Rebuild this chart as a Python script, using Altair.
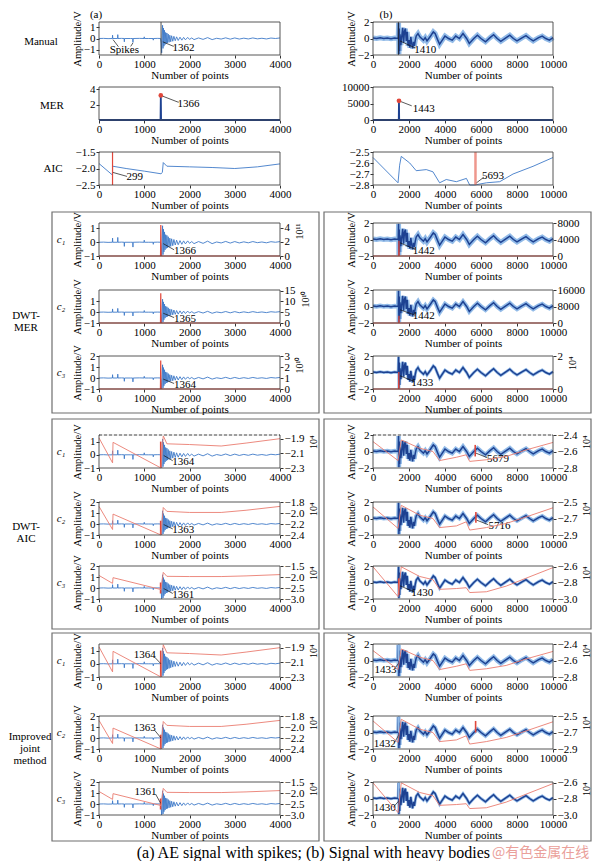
import altair as alt
import pandas as pd

FONT = "Liberation Serif"
BLUE = "#3f7bc8"
DBLUE = "#1d4191"
HALO = "#92bbe8"
RED = "#e0473b"
SALMON = "#ea7d70"
FRAME = "#6e6e6e"

# ---------------- data ----------------
# (a) AE signal with spikes, 4000 points
A_X = [0, 100, 200, 295, 300, 305, 410, 415, 420, 500, 555, 560, 565, 700, 745, 750, 755, 900,
       995, 1000, 1005, 1100, 1195, 1200, 1205, 1300, 1360, 1375, 1385, 1395, 1405, 1415, 1425,
       1435, 1448, 1460, 1473, 1487, 1500, 1515, 1530, 1548, 1565, 1585, 1605, 1630, 1655, 1685,
       1715, 1750, 1790, 1830, 1870, 1910, 1960, 2000, 2050, 2100, 2200, 2300, 2400, 2500, 2600,
       2700, 2800, 2900, 3000, 3100, 3200, 3300, 3400, 3500, 3600, 3700, 3800, 3900, 4000]
A_SIG = [0.0, 0.01, -0.01, 0.0, 0.3, 0.0, 0.0, 0.35, 0.0, 0.01, 0.0, -0.3, 0.0, 0.0, 0.0, -0.35,
         0.0, 0.01, 0.0, 0.15, 0.0, 0.0, 0.0, -0.15, 0.0, 0.01, 0.0, -0.4, -1.3, 0.3, 1.2, -0.9,
         0.95, -0.7, 0.75, -0.55, 0.55, -0.45, 0.5, -0.4, 0.4, -0.35, 0.3, -0.3, 0.25, -0.25, 0.2,
         -0.2, 0.15, -0.18, 0.12, -0.15, 0.1, -0.12, 0.1, -0.08, 0.05, -0.1, 0.05, -0.08, 0.08,
         -0.1, 0.02, -0.05, 0.06, -0.06, 0.05, -0.05, 0.03, -0.04, 0.05, -0.03, 0.02, -0.04, 0.04,
         0.0, 0.05]
# (b) signal with heavy bodies, 10000 points
B_X = [0, 200, 400, 600, 800, 1000, 1200, 1400, 1420, 1440, 1460, 1480, 1500, 1550, 1600, 1650,
       1700, 1750, 1800, 1850, 1900, 1950, 2000, 2050, 2100, 2150, 2200, 2250, 2300, 2350, 2400,
       2500, 2600, 2700, 2800, 2900, 3000, 3100, 3200, 3350, 3450, 3600, 3700, 3850, 4000, 4200,
       4400, 4600, 4800, 5000, 5200, 5350, 5600, 5800, 6000, 6250, 6500, 6700, 6900, 7100, 7400,
       7600, 7800, 8000, 8300, 8500, 8700, 8900, 9200, 9400, 9600, 9800, 10000]
B_SIG = [0.05, 0.0, 0.08, 0.0, 0.05, -0.02, 0.06, 0.0, 1.9, -1.9, 1.2, -1.5, 0.5, -0.8, 0.3, 1.3,
         -0.5, 0.9, 1.2, -0.3, 0.8, -0.9, -0.2, -1.1, 0.2, -0.6, -1.2, -0.4, -0.9, -0.2, 0.3, 0.6,
         0.2, 0.0, -0.2, 0.1, -0.3, 0.0, 0.3, 0.8, 0.6, -0.2, -0.7, -0.2, 0.3, 0.0, -0.2, 0.3, 0.0,
         0.6, 0.0, -0.6, 0.0, 0.4, 0.0, -0.4, 0.1, 0.45, 0.0, -0.35, 0.1, 0.4, 0.0, -0.3, 0.1,
         0.35, 0.0, -0.3, 0.1, 0.3, 0.0, -0.2, 0.1]

MER_A_X = [0, 1360, 1366, 1372, 4000]
MER_A_Y = [0, 0, 3.2, 0, 0]
MER_B_X = [0, 1431, 1443, 1455, 10000]
MER_B_Y = [0, 0, 5800, 0, 0]

AIC_A_X = [0, 299, 300, 600, 1000, 1370, 1400, 1420, 1500, 2000, 2500, 3000, 3500, 4000]
AIC_A_Y = [-1.85, -2.2, -1.93, -2.0, -2.08, -2.16, -2.12, -1.82, -1.93, -1.95, -1.97, -2.0, -1.95, -1.86]
AIC_B_X = [0, 1390, 1480, 1570, 2040, 2400, 2960, 3330, 3700, 4070, 4630, 5190, 5370, 5650,
           6300, 7040, 7780, 8890, 10000]
AIC_B_Y = [-2.55, -2.78, -2.62, -2.54, -2.6, -2.67, -2.66, -2.68, -2.78, -2.75, -2.77, -2.74,
           -2.8, -2.8, -2.78, -2.77, -2.7, -2.63, -2.55]

# DWT-MER curves (right axes)
DMA1_X = [0, 1360, 1366, 1372, 4000]
DMA1_Y = [0, 0, 4.4, 0, 0]
DMA2_X = [0, 1359, 1365, 1371, 4000]
DMA2_Y = [0, 0, 13.8, 0, 0]
DMA3_X = [0, 1358, 1364, 1370, 4000]
DMA3_Y = [0, 0, 2.6, 0, 0]
DMB1_X = [0, 1430, 1442, 1454, 10000]
DMB1_Y = [0, 0, 3700, 0, 0]
DMB2_X = [0, 1430, 1442, 1454, 10000]
DMB2_Y = [0, 0, 3500, 0, 0]
DMB3_X = [0, 1421, 1433, 1445, 10000]
DMB3_Y = [0, 0, 1.03, 0, 0]

# DWT-AIC curves (right axes, x10^4)
AICA_X = [0, 300, 310, 1370, 1420, 1500, 2000, 2700, 3250, 4000]
AICA1_Y = [-1.89, -2.23, -1.95, -2.3, -1.86, -1.97, -1.98, -2.0, -1.96, -1.9]
AICA2_Y = [-1.88, -2.3, -2.02, -2.4, -1.9, -1.97, -1.99, -1.99, -1.95, -1.88]
AICA3_Y = [-1.93, -2.29, -2.03, -2.57, -1.79, -1.97, -1.98, -1.98, -1.95, -1.89]
AICB_X = [0, 1390, 1570, 2590, 3330, 3700, 4630, 5180, 5370, 6300, 7400, 8520, 10000]
AICB1_Y = [-2.48, -2.71, -2.46, -2.56, -2.6, -2.71, -2.67, -2.64, -2.72, -2.7, -2.66, -2.58, -2.49]
AICB2_Y = [-2.56, -2.82, -2.54, -2.66, -2.7, -2.81, -2.79, -2.74, -2.84, -2.81, -2.76, -2.68, -2.57]
AICB3_Y = [-2.6, -2.97, -2.6, -2.72, -2.76, -2.88, -2.87, -2.86, -2.92, -2.91, -2.84, -2.74, -2.61]

XA_TICKS = [0, 1000, 2000, 3000, 4000]
XB_TICKS = [0, 2000, 4000, 6000, 8000, 10000]

ONE = pd.DataFrame({"k": [0]})
NOVIEW = alt.ViewBackground(strokeOpacity=0)
ROW_W = 545
ROW_H = 33
# pixel ranges of the two panels inside one row
RANGE_A = [91, 272]
RANGE_B = [365, 545]
BOXES = [(44, 311), (316, 583)]


def axis(**kw):
    base = dict(labelFont=FONT, titleFont=FONT, labelFontSize=11, titleFontSize=11,
                labelColor="#000", titleColor="#000", titleFontWeight="normal",
                grid=False, domain=False, tickSize=3, tickColor="#333", labelOverlap=False)
    base.update(kw)
    return alt.Axis(**base)


def panel(col, ydom, yticks, yfmt, ytitle, lines, texts=(), leaders=(), marks=(),
          vlines=(), dots=(), right=None, dash_top=False):
    if col == "a":
        xdom, xt, xr = [0, 4000], XA_TICKS, RANGE_A
    else:
        xdom, xt, xr = [0, 10000], XB_TICKS, RANGE_B
    loff, roff = -xr[0], -(ROW_W - xr[1])
    xsc = alt.Scale(domain=xdom, range=xr, nice=False, zero=False)
    xax = axis(orient="bottom", values=xt, format="d", title="Number of points",
               labelPadding=0, titlePadding=0, labelFlush=False)
    yax = axis(orient="left", offset=loff, values=yticks, format=yfmt, title=ytitle,
               labelPadding=1, titlePadding=1, titleFontSize=10.5)
    ysc = alt.Scale(domain=ydom, nice=False, zero=False, clamp=True)

    def X():
        return alt.X("x:Q", scale=xsc, axis=xax)

    def Y():
        return alt.Y("y:Q", scale=ysc, axis=yax)

    layers = []
    for xs, ys, color, w in lines:
        layers.append(alt.Chart(pd.DataFrame({"x": xs, "y": ys}))
                      .mark_line(color=color, strokeWidth=w)
                      .encode(x=X(), y=Y()))
    for x, color, w, op in vlines:
        layers.append(alt.Chart(pd.DataFrame({"x": [x]}))
                      .mark_rule(color=color, strokeWidth=w, opacity=op)
                      .encode(x=X()))
    if marks:
        d = pd.DataFrame(marks, columns=["x", "y", "y2", "c"])
        layers.append(alt.Chart(d).mark_rule(strokeWidth=1.6)
                      .encode(x=X(), y=Y(), y2="y2:Q", color=alt.Color("c:N", scale=None)))
    if leaders:
        d = pd.DataFrame(leaders, columns=["x", "y", "x2", "y2"])
        layers.append(alt.Chart(d).mark_rule(color="#111", strokeWidth=0.7)
                      .encode(x=X(), y=Y(), x2="x2:Q", y2="y2:Q"))
    if dots:
        d = pd.DataFrame(dots, columns=["x", "y"])
        layers.append(alt.Chart(d).mark_point(filled=True, color=RED, size=22, opacity=1)
                      .encode(x=X(), y=Y()))
    if texts:
        d = pd.DataFrame(texts, columns=["t", "x", "y"])
        layers.append(alt.Chart(d).mark_text(font=FONT, fontSize=11, color="#000")
                      .encode(x=X(), y=Y(), text="t:N"))
    out = [alt.layer(*layers)]
    if right is not None:
        rax = axis(orient="right", offset=roff, values=right["ticks"], format=right["fmt"],
                   title=right["title"], titleAngle=270, titleAnchor="end", titleAlign="right",
                   titleBaseline="top", labelPadding=1, titlePadding=5, titleFontSize=10)
        out.append(alt.Chart(pd.DataFrame({"x": right["x"], "y": right["y"]}))
                   .mark_line(color=right["color"], strokeWidth=right["w"])
                   .encode(x=alt.X("x:Q", scale=xsc, axis=None),
                           y=alt.Y("y:Q", scale=alt.Scale(domain=right["dom"], nice=False,
                                                          zero=False, clamp=True), axis=rax)))
    # panel frame
    out.append(alt.Chart(ONE).mark_rect(fillOpacity=0, stroke="#444", strokeWidth=0.9)
               .encode(x=alt.value(xr[0]), x2=alt.value(xr[1]), y=alt.value(0),
                       y2=alt.value(ROW_H)))
    if dash_top:
        out.append(alt.Chart(ONE).mark_rule(color="white", strokeWidth=1.6)
                   .encode(x=alt.value(xr[0] + 1), x2=alt.value(xr[1] - 1), y=alt.value(0)))
        out.append(alt.Chart(ONE).mark_rule(color="#444", strokeWidth=0.9, strokeDash=[3, 2])
                   .encode(x=alt.value(xr[0]), x2=alt.value(xr[1]), y=alt.value(0)))
    return out


def texts_layer(items):
    layers = [alt.Chart(ONE).mark_text(text="", align="left", baseline="top")
              .encode(x=alt.value(1), y=alt.value(1))]
    for t, x, y, fs, italic in items:
        kw = dict(text=t, font=FONT, fontSize=fs, align="center", baseline="middle",
                  color="#000", lineBreak="\n", lineHeight=12)
        if italic:
            kw["fontStyle"] = "italic"
        layers.append(alt.Chart(ONE).mark_text(**kw).encode(x=alt.value(x), y=alt.value(y)))
    return layers


def spacer(h, box=None, items=()):
    layers = texts_layer(items)
    if box is not None:
        top, bot = box
        for x1, x2 in BOXES:
            layers.append(alt.Chart(ONE).mark_rect(fillOpacity=0, stroke=FRAME, strokeWidth=1.2)
                          .encode(x=alt.value(x1), x2=alt.value(x2), y=alt.value(top),
                                  y2=alt.value(bot)))
    return alt.layer(*layers).properties(width=ROW_W, height=h, view=NOVIEW)


def row(label_items, left, right):
    layers = texts_layer(label_items) + left + right
    return (alt.layer(*layers)
            .resolve_scale(x="independent", y="independent")
            .properties(width=ROW_W, height=ROW_H, view=NOVIEW))


SIG_A = [(A_X, A_SIG, BLUE, 0.9)]


def sig_b(h):
    return [(B_X, B_SIG, HALO, h), (B_X, B_SIG, DBLUE, 1.5)]


def red_right(xs, ys, dom, ticks, fmt, title, color=RED, w=1.2):
    return dict(x=xs, y=ys, dom=dom, ticks=ticks, fmt=fmt, title=title, color=color, w=w)


items = []
items.append(spacer(14, items=[("(a)", 88, 7, 11, False), ("(b)", 378, 7, 11, False)]))

# Manual
items.append(row([("Manual", 33, 20, 11, False)],
                 panel("a", [-1.5, 1.5], [-1, 0, 1], "d", "Amplitude/V", SIG_A,
                       texts=[("1362", 1870, -0.85), ("Spikes", 560, -1.0)],
                       leaders=[(1410, -0.3, 1650, -0.72), (310, -0.1, 430, -0.75),
                                (750, -0.4, 700, -0.72)],
                       vlines=[(1371, "#222", 0.8, 1)]),
                 panel("b", [-2, 2], [-2, 0, 2], "d", "Amplitude/V", sig_b(5),
                       texts=[("1410", 2900, -1.37)], leaders=[(1500, -0.3, 2350, -1.15)],
                       vlines=[(1410, "#222", 0.8, 1)])))
items.append(spacer(32))
# MER
items.append(row([("MER", 44, 19, 11, False)],
                 panel("a", [0, 4.3], [2, 4], "d", "", [(MER_A_X, MER_A_Y, DBLUE, 1.8)],
                       texts=[("1366", 1980, 2.1)], leaders=[(1366, 3.2, 1760, 2.3)],
                       dots=[(1366, 3.2)]),
                 panel("b", [0, 10000], [0, 5000, 10000], "d", "", [(MER_B_X, MER_B_Y, DBLUE, 1.8)],
                       texts=[("1443", 2820, 3300)], leaders=[(1443, 5800, 2150, 4300)],
                       dots=[(1443, 5800)])))
items.append(spacer(32))
# AIC
items.append(row([("AIC", 45, 17, 11, False)],
                 panel("a", [-2.5, -1.5], [-2.5, -2.0, -1.5], ".1f", "", [(AIC_A_X, AIC_A_Y, BLUE, 0.9)],
                       texts=[("299", 790, -2.27)], leaders=[(310, -2.12, 620, -2.24)],
                       vlines=[(299, RED, 1.2, 1)]),
                 panel("b", [-2.8, -2.5], [-2.8, -2.7, -2.6, -2.5], ".1f", "",
                       [(AIC_B_X, AIC_B_Y, BLUE, 0.9)],
                       texts=[("5693", 6670, -2.72)], leaders=[(5750, -2.78, 6150, -2.73)],
                       vlines=[(5693, SALMON, 2.5, 0.8)])))
items.append(spacer(38, box=(27, 228)))

# DWT-MER
items.append(row([("c₁", 53, 17, 11, True)],
                 panel("a", [-1, 1.4], [-1, 0, 1], "d", "Amplitude/V", SIG_A,
                       texts=[("1366", 1900, -0.62)], leaders=[(1420, -0.1, 1660, -0.55)],
                       right=red_right(DMA1_X, DMA1_Y, [0, 4.7], [0, 2, 4], "d", "10¹¹")),
                 panel("b", [-2, 2], [-2, 0, 2], "d", "Amplitude/V", sig_b(5),
                       texts=[("1442", 2820, -1.37)], leaders=[(1500, -0.4, 2350, -1.2)],
                       right=red_right(DMB1_X, DMB1_Y, [0, 8000], [0, 4000, 8000], "d", ""))))
items.append(spacer(34))
items.append(row([("c₂", 53, 17, 11, True), ("DWT-\nMER", 18, 26, 11, False)],
                 panel("a", [-1, 2.05], [-1, 0, 1], "d", "Amplitude/V", SIG_A,
                       texts=[("1365", 1900, -0.6)], leaders=[(1420, -0.1, 1660, -0.5)],
                       right=red_right(DMA2_X, DMA2_Y, [0, 15.3], [0, 5, 10, 15], "d", "10¹⁰")),
                 panel("b", [-2, 2], [-2, 0, 2], "d", "Amplitude/V", sig_b(4.5),
                       texts=[("1442", 2820, -1.2)], leaders=[(1500, -0.4, 2350, -1.05)],
                       right=red_right(DMB2_X, DMB2_Y, [0, 16000], [0, 8000, 16000], "d", ""))))
items.append(spacer(33))
items.append(row([("c₃", 53, 17, 11, True)],
                 panel("a", [-1, 2], [-1, 0, 1, 2], "d", "Amplitude/V", SIG_A,
                       texts=[("1364", 1900, -0.6)], leaders=[(1420, -0.1, 1660, -0.5)],
                       right=red_right(DMA3_X, DMA3_Y, [0, 3], [0, 1, 2, 3], "d", "10¹⁰")),
                 panel("b", [-2, 2], [-2, 0, 2], "d", "Amplitude/V", sig_b(3),
                       texts=[("1433", 2740, -1.27)], leaders=[(1500, -0.4, 2300, -1.1)],
                       right=red_right(DMB3_X, DMB3_Y, [0, 2], [0, 1, 2], "d", "10⁴"))))
items.append(spacer(46, box=(30, 240)))

# DWT-AIC
items.append(row([("c₁", 53, 17, 11, True)],
                 panel("a", [-1, 1.5], [-1, 0, 1], "d", "Amplitude/V", SIG_A,
                       texts=[("1364", 1860, -0.55)], leaders=[(1430, -0.05, 1630, -0.45)],
                       marks=[(1364, -1, 1, RED)], dash_top=True,
                       right=red_right(AICA_X, AICA1_Y, [-2.3, -1.85], [-2.3, -2.1, -1.9], ".1f",
                                       "10⁴", SALMON, 0.9)),
                 panel("b", [-2, 2], [-2, 0, 2], "d", "Amplitude/V", sig_b(4.5),
                       texts=[("5679", 6940, -0.88)], leaders=[(5720, -0.2, 6350, -0.75)],
                       marks=[(5679, -0.6, 0.8, RED)], dash_top=True,
                       right=red_right(AICB_X, AICB1_Y, [-2.8, -2.4], [-2.8, -2.6, -2.4], ".1f",
                                       "10⁴", SALMON, 0.9))))
items.append(spacer(34))
items.append(row([("c₂", 53, 17, 11, True), ("DWT-\nAIC", 18, 25, 11, False)],
                 panel("a", [-1, 2], [-1, 0, 1, 2], "d", "Amplitude/V", SIG_A,
                       texts=[("1363", 1860, -0.57)], leaders=[(1430, -0.05, 1630, -0.45)],
                       marks=[(1363, -1, 0.3, RED)],
                       right=red_right(AICA_X, AICA2_Y, [-2.4, -1.8], [-2.4, -2.2, -2.0, -1.8],
                                       ".1f", "10⁴", SALMON, 0.9)),
                 panel("b", [-2, 2], [-2, 0, 2], "d", "Amplitude/V", sig_b(4),
                       texts=[("5716", 7030, -0.88)], leaders=[(5760, -0.2, 6400, -0.75)],
                       marks=[(5716, -0.5, 0.8, RED)],
                       right=red_right(AICB_X, AICB2_Y, [-2.9, -2.5], [-2.9, -2.7, -2.5], ".1f",
                                       "10⁴", SALMON, 0.9))))
items.append(spacer(31))
items.append(row([("c₃", 53, 17, 11, True)],
                 panel("a", [-1, 2], [-1, 0, 1, 2], "d", "Amplitude/V", SIG_A,
                       texts=[("1361", 1860, -0.65)], leaders=[(1430, -0.05, 1630, -0.5)],
                       marks=[(1361, -0.5, 0.5, RED)],
                       right=red_right(AICA_X, AICA3_Y, [-3.0, -1.5], [-3.0, -2.5, -2.0, -1.5],
                                       ".1f", "10⁴", SALMON, 0.9)),
                 panel("b", [-2, 2], [-2, 0, 2], "d", "Amplitude/V", sig_b(3),
                       texts=[("1430", 2740, -1.33)], leaders=[(1500, -0.4, 2300, -1.15)],
                       marks=[(1430, -1.5, 0.5, RED)],
                       right=red_right(AICB_X, AICB3_Y, [-3.0, -2.59], [-3.0, -2.8, -2.6], ".1f",
                                       "10⁴", SALMON, 0.9))))
items.append(spacer(45, box=(34, 242)))

# Improved joint method
items.append(row([("c₁", 53, 17, 11, True)],
                 panel("a", [-1, 1.5], [-1, 0, 1], "d", "Amplitude/V", SIG_A,
                       texts=[("1364", 1010, 0.67)], leaders=[(1230, 0.5, 1370, 0.0)],
                       marks=[(1364, -1, 1, RED)],
                       right=red_right(AICA_X, AICA1_Y, [-2.3, -1.85], [-2.3, -2.1, -1.9], ".1f",
                                       "10⁴", SALMON, 0.9)),
                 panel("b", [-2, 2], [-2, 0, 2], "d", "Amplitude/V", sig_b(4.5),
                       texts=[("1433", 700, -1.2)], leaders=[(1200, -1.0, 1433, -0.3)],
                       marks=[(1433, 0, 2, HALO)],
                       right=red_right(AICB_X, AICB1_Y, [-2.8, -2.4], [-2.8, -2.6, -2.4], ".1f",
                                       "10⁴", SALMON, 0.9))))
items.append(spacer(39))
items.append(row([("c₂", 53, 17, 11, True), ("Improved\njoint\nmethod", 22, 21, 11, False)],
                 panel("a", [-1, 2], [-1, 0, 1, 2], "d", "Amplitude/V", SIG_A,
                       texts=[("1363", 1010, 0.87)], leaders=[(1230, 0.7, 1370, 0.0)],
                       marks=[(1363, -1, 0.3, RED)],
                       right=red_right(AICA_X, AICA2_Y, [-2.4, -1.8], [-2.4, -2.2, -2.0, -1.8],
                                       ".1f", "10⁴", SALMON, 0.9)),
                 panel("b", [-2, 2], [-2, 0, 2], "d", "Amplitude/V", sig_b(4),
                       texts=[("1432", 655, -1.42)], leaders=[(1200, -1.2, 1432, -0.3)],
                       marks=[(1432, 0, 2, HALO), (5700, 0, 1.4, RED)],
                       right=red_right(AICB_X, AICB2_Y, [-2.9, -2.5], [-2.9, -2.7, -2.5], ".1f",
                                       "10⁴", SALMON, 0.9))))
items.append(spacer(33))
items.append(row([("c₃", 53, 17, 11, True)],
                 panel("a", [-1, 2], [-1, 0, 1, 2], "d", "Amplitude/V", SIG_A,
                       texts=[("1361", 1030, 1.1)], leaders=[(1250, 0.9, 1365, 0.05)],
                       marks=[(1361, -0.5, 0.5, RED)],
                       right=red_right(AICA_X, AICA3_Y, [-3.0, -1.5], [-3.0, -2.5, -2.0, -1.5],
                                       ".1f", "10⁴", SALMON, 0.9)),
                 panel("b", [-2, 2], [-2, 0, 2], "d", "Amplitude/V", sig_b(3),
                       texts=[("1430", 655, -1.1)], leaders=[(1150, -1.0, 1430, -0.3)],
                       marks=[(1430, 0, 2, HALO)],
                       right=red_right(AICB_X, AICB3_Y, [-3.0, -2.59], [-3.0, -2.8, -2.6], ".1f",
                                       "10⁴", SALMON, 0.9))))

# caption
cap = alt.layer(
    alt.Chart(ONE).mark_text(text="(a) AE signal with spikes; (b) Signal with heavy bodies",
                             font=FONT, fontSize=16, align="right", baseline="middle",
                             color="#000").encode(x=alt.value(482), y=alt.value(38)),
    alt.Chart(ONE).mark_text(text="@有色金属在线", font="Noto Sans CJK SC", fontSize=14,
                             align="left", baseline="middle", color="#eaa09a")
    .encode(x=alt.value(484), y=alt.value(38)),
).properties(width=ROW_W, height=45, view=NOVIEW)
items.append(cap)

chart = (alt.vconcat(*items, spacing=0, bounds="flush")
         .properties(padding=0)
         .configure(font=FONT)
         .configure_view(stroke="#444", strokeWidth=0.9))

chart.save("out.html", embed_options={"renderer": "svg", "actions": False})
